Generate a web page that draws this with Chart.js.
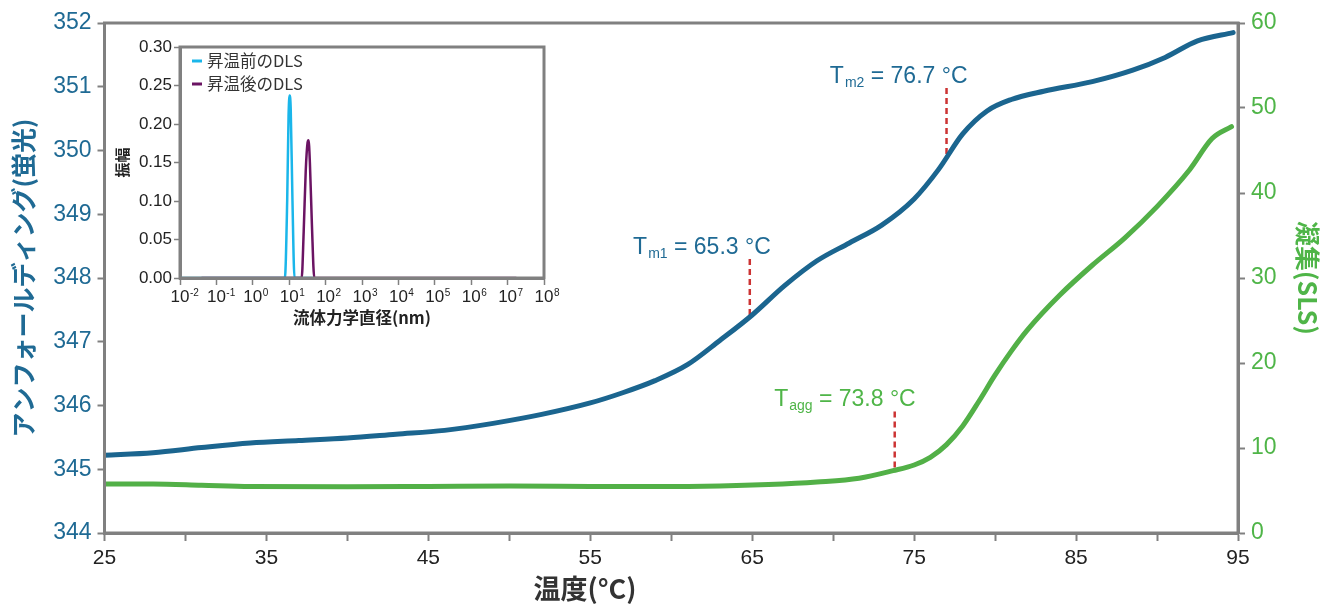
<!DOCTYPE html>
<html>
<head>
<meta charset="utf-8">
<script src="https://cdn.jsdelivr.net/npm/chart.js@4.4.1/dist/chart.umd.min.js"></script>
<style>
  html, body { margin: 0; padding: 0; background: #fff; }
  #wrap { position: relative; width: 1323px; height: 606px; }
  #main { position: absolute; left: 0; top: 0; width: 1323px; height: 606px; }
  #inset { position: absolute; left: 105px; top: 30px; width: 470px; height: 300px; }
</style>
</head>
<body>
<div id="wrap">
  <canvas id="main" width="1323" height="606"></canvas>
  <canvas id="inset" width="470" height="300"></canvas>
</div>
<script>
// --- data: main chart (temperature sweep)
const fluorTemp = [25, 28, 31, 34, 37, 40, 43, 46, 49, 52, 55, 57, 59, 61, 63, 65, 67, 69, 71, 73, 75, 76.5, 78, 79.5, 81, 83, 86, 88.5, 90.5, 92.5, 94.7];
const fluorValue = [345.22, 345.26, 345.34, 345.41, 345.45, 345.49, 345.55, 345.61, 345.72, 345.86, 346.04, 346.20, 346.39, 346.64, 347.02, 347.42, 347.88, 348.27, 348.55, 348.83, 349.24, 349.70, 350.26, 350.62, 350.80, 350.93, 351.08, 351.26, 351.46, 351.72, 351.85];

const slsTemp = [25, 28, 31, 34, 40, 45, 50, 55, 59, 63, 66, 69, 71.6, 73.7, 75, 76, 77, 78, 79, 80, 81, 82, 84, 86, 88, 90, 92, 93.4, 94.6];
const slsValue = [5.76, 5.76, 5.62, 5.47, 5.45, 5.48, 5.52, 5.48, 5.46, 5.53, 5.70, 6.00, 6.44, 7.33, 8.0, 8.9, 10.4, 12.6, 15.5, 18.6, 21.4, 23.9, 28.0, 31.5, 34.7, 38.4, 42.7, 46.4, 47.8];

// transition markers (dashed red lines + labels)
const markerSub = ['m1', 'm2', 'agg'];
const markerText = ['65.3', '76.7', '73.8'];
const markerX = [64.85, 77.0, 73.8];
const markerTop = [348.30, 350.98, 14.3];
const markerBottom = [347.39, 349.93, 7.2];
const markerAxis = ['y', 'y', 'y1'];

// --- data: inset (DLS)
const dlsBeforeSize = [0.01, 7.6, 8.8, 9.6, 10.3, 11.0, 12.3, 14.0, 45];
const dlsBeforeAmp = [0, 0, 0.10, 0.21, 0.237, 0.22, 0.10, 0, 0];
const dlsAfterSize = [0.039, 22, 25, 28.5, 32, 34, 37, 42, 49, 1.74e7];
const dlsAfterAmp = [0, 0, 0.06, 0.14, 0.176, 0.179, 0.15, 0.07, 0, 0];
const dlsDecades = [-2, -1, 0, 1, 2, 3, 4, 5, 6, 7, 8];

const BLUE = '#1b658f';
const BLUE_TEXT = '#1f6a94';
const GREEN = '#52b047';
const GREEN_TEXT = '#4fb548';
const RED = '#cc3333';
const AXIS = '#808080';
const CYAN = '#1ab6ea';
const PURPLE = '#6b1463';
const FONT = '"Liberation Sans", "Noto Sans CJK JP", sans-serif';
const JP = '"Noto Sans CJK JP", "Liberation Sans", sans-serif';

const pts = (xs, ys) => xs.map((x, i) => ({ x: x, y: ys[i] }));

// draws frame, marker labels and the x title
const mainDecor = {
  id: 'mainDecor',
  afterDraw(chart) {
    const { ctx, chartArea: a, scales } = chart;
    ctx.save();
    ctx.strokeStyle = AXIS;
    ctx.lineWidth = 3;
    ctx.strokeRect(a.left, a.top, a.right - a.left, a.bottom - a.top);

    markerX.forEach((mx, i) => {
      const x = scales.x.getPixelForValue(mx);
      const yTop = scales[markerAxis[i]].getPixelForValue(markerTop[i]);
      const color = markerAxis[i] === 'y' ? BLUE_TEXT : GREEN_TEXT;
      const rest = ' = ' + markerText[i] + ' °C';
      ctx.font = '23px ' + FONT;
      const wT = ctx.measureText('T').width;
      const wR = ctx.measureText(rest).width;
      ctx.font = '14px ' + FONT;
      const wS = ctx.measureText(markerSub[i]).width;
      let sx = x + 21 - (wT + 1 + wS + wR);
      const by = yTop - 5;
      ctx.fillStyle = color;
      ctx.textAlign = 'left';
      ctx.textBaseline = 'alphabetic';
      ctx.font = '23px ' + FONT;
      ctx.fillText('T', sx, by);
      ctx.font = '14px ' + FONT;
      ctx.fillText(markerSub[i], sx + wT + 1, by + 4);
      ctx.font = '23px ' + FONT;
      ctx.fillText(rest, sx + wT + 1 + wS, by);
    });

    ctx.fillStyle = '#333';
    ctx.font = 'bold 27px ' + JP;
    ctx.textAlign = 'center';
    ctx.textBaseline = 'middle';
    ctx.fillText('温度(°C)', 585, 589);
    ctx.restore();
  }
};

new Chart(document.getElementById('main'), {
  type: 'line',
  data: {
    datasets: [
      { data: pts(fluorTemp, fluorValue), yAxisID: 'y', borderColor: BLUE, borderWidth: 5,
        pointRadius: 0, cubicInterpolationMode: 'monotone', borderCapStyle: 'round', order: 0 },
      { data: pts(slsTemp, slsValue), yAxisID: 'y1', borderColor: GREEN, borderWidth: 5,
        pointRadius: 0, cubicInterpolationMode: 'monotone', borderCapStyle: 'round', order: 0 },
      ...markerX.map((mx, i) => ({
        data: [{ x: mx, y: markerTop[i] }, { x: mx, y: markerBottom[i] }],
        yAxisID: markerAxis[i], borderColor: RED, borderWidth: 2.5, borderDash: [6, 4],
        pointRadius: 0, order: 1
      }))
    ]
  },
  options: {
    responsive: false,
    animation: false,
    devicePixelRatio: 1,
    layout: { padding: { top: 23, right: 0, bottom: 0, left: 0 } },
    plugins: { legend: { display: false }, tooltip: { enabled: false } },
    scales: {
      x: {
        type: 'linear', min: 25, max: 95,
        ticks: {
          stepSize: 5, autoSkip: false, maxRotation: 0, color: '#222', padding: 5,
          font: { size: 21, family: FONT },
          callback: v => ((v - 25) % 10 === 0 ? String(v) : '')
        },
        grid: { drawOnChartArea: false, tickLength: 8, color: AXIS, tickWidth: 2 },
        border: { color: AXIS, width: 3 },
        afterFit: s => { s.height = 73; }
      },
      y: {
        position: 'left', min: 344, max: 352,
        ticks: { stepSize: 1, color: BLUE_TEXT, padding: 6, font: { size: 23, family: FONT } },
        grid: { drawOnChartArea: false, tickLength: 7, color: AXIS, tickWidth: 2 },
        border: { color: AXIS, width: 3 },
        title: { display: true, text: 'アンフォールディング(蛍光)', color: BLUE_TEXT,
          font: { size: 25, weight: 'bold', family: JP }, padding: { top: 8, bottom: 0 } },
        afterFit: s => { s.width = 104.5; }
      },
      y1: {
        position: 'right', min: 0, max: 60,
        ticks: { stepSize: 10, color: GREEN_TEXT, padding: 6, font: { size: 23, family: FONT } },
        grid: { drawOnChartArea: false, tickLength: 7, color: AXIS, tickWidth: 2 },
        border: { color: AXIS, width: 3 },
        title: { display: true, text: '凝集(SLS)', color: GREEN_TEXT,
          font: { size: 25, weight: 'bold', family: JP }, padding: { top: 1, bottom: 0 } },
        afterFit: s => { s.width = 85; }
      }
    }
  },
  plugins: [mainDecor]
});

// --- inset: DLS distribution
const insetDecor = {
  id: 'insetDecor',
  beforeDraw(chart) {
    const { ctx, chartArea: a } = chart;
    ctx.save();
    ctx.fillStyle = '#fff';
    ctx.fillRect(a.left, a.top, a.right - a.left, a.bottom - a.top);
    ctx.restore();
  },
  afterDraw(chart) {
    const { ctx, chartArea: a, scales } = chart;
    ctx.save();
    ctx.strokeStyle = AXIS;
    ctx.lineWidth = 3;
    ctx.strokeRect(a.left, a.top, a.right - a.left, a.bottom - a.top);

    // decade labels 10^n
    ctx.fillStyle = '#222';
    ctx.textBaseline = 'alphabetic';
    ctx.textAlign = 'left';
    dlsDecades.forEach(p => {
      const x = scales.x.getPixelForValue(Math.pow(10, p));
      ctx.font = '17px ' + FONT;
      const w = ctx.measureText('10').width;
      ctx.fillText('10', x - w / 2, 272);
      ctx.font = '10px ' + FONT;
      ctx.fillText(String(p), x + w / 2 + 0.5, 266);
    });

    // legend
    const legendNames = ['昇温前のDLS', '昇温後のDLS'];
    const legendColors = [CYAN, PURPLE];
    legendNames.forEach((name, i) => {
      const y = 31 + i * 23;
      ctx.strokeStyle = legendColors[i];
      ctx.lineWidth = 3;
      ctx.beginPath();
      ctx.moveTo(87, y);
      ctx.lineTo(97, y);
      ctx.stroke();
      ctx.fillStyle = '#333';
      ctx.font = '16.5px ' + JP;
      ctx.textBaseline = 'middle';
      ctx.fillText(name, 102, y);
    });
    ctx.restore();
  }
};

new Chart(document.getElementById('inset'), {
  type: 'line',
  data: {
    datasets: [
      { data: pts(dlsAfterSize, dlsAfterAmp), borderColor: PURPLE, borderWidth: 2.5,
        pointRadius: 0, cubicInterpolationMode: 'monotone', order: 0 },
      { data: pts(dlsBeforeSize, dlsBeforeAmp), borderColor: CYAN, borderWidth: 2.5,
        pointRadius: 0, cubicInterpolationMode: 'monotone', order: 1 }
    ]
  },
  options: {
    responsive: false,
    animation: false,
    devicePixelRatio: 1,
    layout: { padding: { top: 17, right: 31, bottom: 0, left: 0 } },
    plugins: { legend: { display: false }, tooltip: { enabled: false } },
    scales: {
      x: {
        type: 'logarithmic', min: 0.01, max: 1e8,
        afterBuildTicks: s => { s.ticks = dlsDecades.map(p => ({ value: Math.pow(10, p) })); },
        ticks: { display: false },
        grid: { drawOnChartArea: false, tickLength: 7, color: AXIS, tickWidth: 1.5 },
        border: { color: AXIS, width: 3 },
        title: { display: true, text: '流体力学直径(nm)', color: '#222',
          font: { size: 16.5, weight: 'bold', family: JP }, padding: { top: 0, bottom: 2 } },
        afterFit: s => { s.height = 52; }
      },
      y: {
        min: 0, max: 0.3,
        ticks: { stepSize: 0.05, color: '#222', padding: 2, font: { size: 17, family: FONT },
          callback: v => v.toFixed(2) },
        grid: { drawOnChartArea: false, tickLength: 6, color: AXIS, tickWidth: 1.5 },
        border: { color: AXIS, width: 3 },
        title: { display: true, text: '振幅', color: '#222',
          font: { size: 15, weight: 'bold', family: JP }, padding: { top: 8, bottom: 0 } },
        afterFit: s => { s.width = 75; }
      }
    }
  },
  plugins: [insetDecor]
});
</script>
</body>
</html>
